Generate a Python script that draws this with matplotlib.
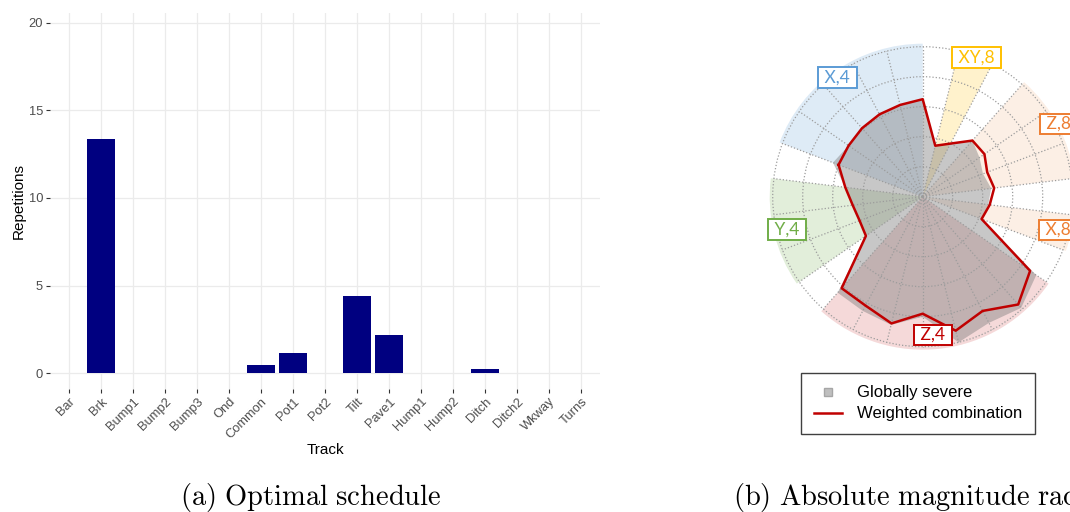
import numpy as np
import matplotlib
matplotlib.use('Agg')
import matplotlib.pyplot as plt
from matplotlib.lines import Line2D

plt.rcParams['font.family'] = ['Liberation Sans', 'DejaVu Sans']
plt.rcParams['mathtext.fontset'] = 'cm'

# ---------------- data: (a) optimal schedule ----------------
tracks = ['Bar', 'Brk', 'Bump1', 'Bump2', 'Bump3', 'Ond', 'Common', 'Pot1', 'Pot2',
          'Tilt', 'Pave1', 'Hump1', 'Hump2', 'Ditch', 'Ditch2', 'Wkway', 'Turns']
repetitions = [0, 13.35, 0, 0, 0, 0, 0.47, 1.14, 0, 4.4, 2.17, 0, 0, 0.24, 0, 0, 0]
rep_ticks = [0, 5, 10, 15, 20]

# ---------------- data: (b) absolute magnitude radar ----------------
groups = ['X,4', 'XY,8', 'Z,8', 'X,8', 'Z,4', 'Y,4']
group_sizes = [6, 2, 4, 2, 8, 4]
weighted = [0.60, 0.60, 0.61, 0.62, 0.63, 0.65,   # X,4
            0.35, 0.40,                           # XY,8
            0.50, 0.50, 0.46, 0.48,               # Z,8
            0.45, 0.42,                           # X,8
            0.87, 0.96, 0.86, 0.92, 0.78, 0.87, 0.82, 0.815,  # Z,4
            0.46, 0.45, 0.47, 0.52]               # Y,4
globally = [0.64, 0.60, 0.61, 0.62, 0.63, 0.65,
            0.35, 0.40,
            0.50, 0.46, 0.43, 0.46,
            0.44, 0.42,
            0.92, 0.99, 0.95, 1.00, 0.80, 0.88, 0.86, 0.855,
            0.46, 0.45, 0.47, 0.52]
ring_levels = [0.2, 0.4, 0.6, 0.8, 1.0]
sector_level = 1.02

# ---------------- styles ----------------
group_colors = ['#5b9bd5', '#ffc000', '#ed7d31', '#ed7d31', '#c00000', '#70ad47']
group_alpha = [0.2, 0.2, 0.12, 0.12, 0.15, 0.2]
label_pos_px = [(837.5, 77.5), (976.3, 57.5), (1059, 124), (1058, 230),
                (933, 335), (786.7, 229.5)]

W, H = 1070, 512
fig = plt.figure(figsize=(W / 100, H / 100), dpi=100)

# ================= (a) bar chart =================
ax_top, ax_bot = 13.3, 389.0
ax = fig.add_axes([49.8 / W, 1 - ax_bot / H, 550.4 / W, (ax_bot - ax_top) / H])
x = np.arange(len(tracks))
ax.bar(x, repetitions, width=0.9, color='#000080', linewidth=0, zorder=3)
ax.set_xlim(-0.6, len(tracks) - 1 + 0.6)
ax.set_ylim(-0.9, 20.54)
ax.set_yticks(rep_ticks)
ax.set_xticks(x)
ax.set_xticklabels(tracks, rotation=45, ha='right', va='top',
                   rotation_mode='anchor')
for s in ax.spines.values():
    s.set_visible(False)
ax.grid(True, color='#ebebeb', linewidth=0.9, zorder=0)
ax.set_axisbelow(True)
ax.tick_params(axis='both', length=2.8, width=0.8, color='#333333',
               labelcolor='#4d4d4d', labelsize=9.3, pad=2)
ax.set_ylabel('Repetitions', fontsize=11, va='center')
ax.yaxis.set_label_coords((19 - 49.8) / 550.4, 0.5)
ax.set_xlabel('Track', fontsize=11, va='center')
ax.xaxis.set_label_coords(0.5, -(450 - ax_bot) / (ax_bot - ax_top))

# ================= (b) radar =================
cx, cy, R = 922.7, 196.7, 150
pax = fig.add_axes([(cx - R) / W, 1 - (cy + R) / H, 2 * R / W, 2 * R / H],
                   projection='polar')
pax.set_theta_offset(np.pi / 2)
pax.set_theta_direction(-1)
pax.set_ylim(0, 1)

n = len(weighted)
step = 2 * np.pi / n
thetas = np.mod((np.arange(n) - (group_sizes[0] - 1)) * step, 2 * np.pi)
th_closed = np.append(thetas, thetas[0])

# grid (circles + spokes)
pax.set_xticks(thetas)
pax.set_yticks(ring_levels)
pax.set_xticklabels([])
pax.set_yticklabels([])
pax.tick_params(length=0)
pax.spines['polar'].set_visible(False)
pax.set_axisbelow(False)
pax.grid(True, color='#9c9c9c', linewidth=0.9, linestyle=(0, (1, 1.6)))
for gl in pax.yaxis.get_gridlines() + pax.xaxis.get_gridlines():
    gl.set_clip_on(False)

# sector backgrounds
start = 0
for g, size in enumerate(group_sizes):
    t0 = (np.arange(n) - (group_sizes[0] - 1))[start] * step
    span = (size - 1) * step
    pax.bar(t0 + span / 2, sector_level, width=span, bottom=0,
            color=group_colors[g], alpha=group_alpha[g], linewidth=0,
            zorder=1, clip_on=False)
    start += size

# globally severe polygon
pax.fill(th_closed, np.append(globally, globally[0]), color='#7a7a7a',
         alpha=0.42, linewidth=0, zorder=2, clip_on=False)

# weighted combination
pax.plot(th_closed, np.append(weighted, weighted[0]), color='#c00000',
         lw=1.8, zorder=4, clip_on=False)

# group labels
for g, name in enumerate(groups):
    px, py = label_pos_px[g]
    fig.text(px / W, 1 - py / H, ' ' + name + ' ', family=['Lato', 'DejaVu Sans'],
             fontsize=12.5, color=group_colors[g], ha='center', va='center',
             bbox=dict(boxstyle='square,pad=0.12', fc='white',
                       ec=group_colors[g], lw=1.4), zorder=10)

# legend
handles = [Line2D([], [], marker='s', linestyle='none', markersize=6,
                  markerfacecolor='#bfbfbf', markeredgecolor='#a6a6a6'),
           Line2D([], [], color='#c00000', lw=1.8)]
leg = fig.legend(handles, ['Globally severe', 'Weighted combination'],
                 loc='upper left', bbox_to_anchor=(801 / W, 1 - 373 / H),
                 frameon=True, fancybox=False, edgecolor='#404040',
                 framealpha=1, fontsize=12, borderpad=0.75, handlelength=1.7,
                 handletextpad=0.9, labelspacing=0.35, borderaxespad=0)
leg.get_frame().set_linewidth(1.0)

# captions
fig.text(310.5 / W, 1 - 497 / H, r'$\mathrm{(a)\ Optimal\ schedule}$',
         fontsize=20.5, ha='center', va='center')
fig.text(733 / W, 1 - 497 / H, r'$\mathrm{(b)\ Absolute\ magnitude\ radar}$',
         fontsize=20.5, ha='left', va='center')

fig.savefig('out.png', dpi=100)
